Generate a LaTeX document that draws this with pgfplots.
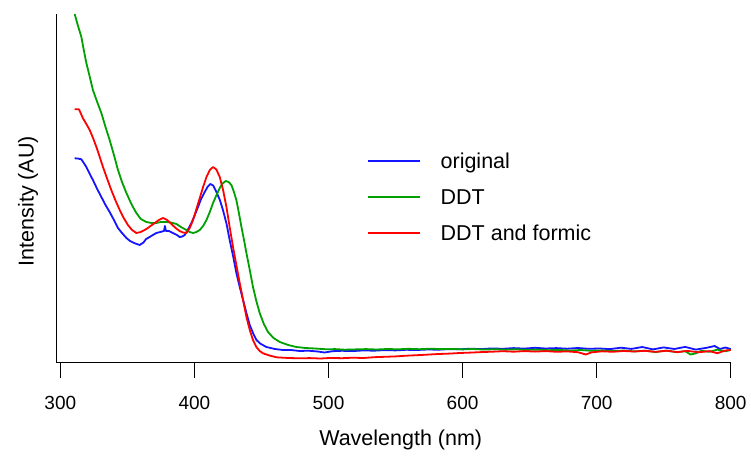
\documentclass[border=0pt]{standalone}
\usepackage{fontspec}
\setmainfont{Liberation Sans}
\usepackage{pgfplots}
\pgfplotsset{compat=1.18}
\definecolor{cblue}{RGB}{20,20,255}
\definecolor{cgreen}{RGB}{0,160,0}
\definecolor{cred}{RGB}{255,0,0}
\begin{document}
\begin{tikzpicture}
\begin{axis}[
  scale only axis,
  width=674pt, height=348.5pt,
  xmin=297.3, xmax=800, ymin=-0.5, ymax=348,
  axis x line*=bottom, axis y line*=left,
  axis line style={-, line width=1.3pt, black},
  every outer x axis line/.append style={-, line width=1.3pt, black},
  every outer y axis line/.append style={-, line width=1.3pt, black},
  xtick={300,400,500,600,700,800},
  ytick=\empty,
  tick align=outside,
  major tick length=15pt,
  tick style={line width=1.3pt, black},
  /pgf/number format/assume math mode=true,
  xticklabel style={font=\fontsize{19}{22}\selectfont, anchor=base, inner sep=0pt, yshift=-32pt},
  xlabel={Wavelength (nm)},
  xlabel style={font=\fontsize{21.5}{25}\selectfont, at={(rel axis cs:0.5,0)}, anchor=base, inner sep=0pt, xshift=7pt, yshift=-82.5pt},
  ylabel={Intensity (AU)},
  ylabel style={font=\fontsize{21.5}{25}\selectfont, at={(axis description cs:-0.0341,0.463)}, anchor=base, inner sep=0pt, rotate=0},
  clip=false,
  legend style={draw=none, fill=none, at={(axis cs:528.7,209.6)}, anchor=north west,
    font=\fontsize{21.5}{25}\selectfont, row sep=16pt, inner sep=0pt,
    nodes={inner sep=0pt, text height=15.5pt, text depth=4.5pt}},
  legend cell align=left,
  legend image code/.code={\draw[#1, line width=2pt] (0pt,2pt) -- (51.6pt,2pt); \path (71.6pt,2pt);},
  every axis plot/.append style={line width=1.8pt, line join=round},
]
\addplot[cblue] coordinates {
(310.7,203.7) (313,203.5) (315.7,202.7) (317.5,199) (319.4,195) (322,188) (324.3,182) (327.5,173) (330.6,165) (333.7,157) (336.8,150) (340,142) (343,134) (346,129) (349.3,124) (352,121) (355,119) (359.2,117) (362,119.5) (364,123) (366.6,125) (369,127) (371.6,129) (374.5,130) (377.3,131) (378,136) (378.8,131) (381,131) (384,129) (387,127) (389,125) (391,125.5) (392.8,127) (395,132) (397.8,139) (400,146) (402.7,155) (405,163) (407.7,170) (410,175.5) (411.9,178) (414,176.5) (416.4,170) (419,162) (421.3,152) (424,138) (426.3,122) (429,105) (431.3,89) (434,74) (436.3,62) (439,48) (441.3,37) (444,28) (446.3,22) (449,18.5) (453.7,15) (460,13) (466,12) (472,12) (478.6,11)
(485,11.3) (492,10.5) (497,9.5) (503,10.8) (510,11.2) (518,10.9) (526,11.6) (534,11.3) (542,11.9) (550,11.6) (558,12.2) (566,12.0) (574,12.5) (582,12.3) (590,12.9) (598,12.7) (606,13.3) (614,12.9) (622,13.6) (630,13.2) (638,13.9) (646,13.4) (654,14.2) (662,13.5) (670,13.9) (678,13.3) (686,14.0) (694,13.2) (702,13.5) (710,12.9) (718,14.3) (726,13.1) (734,15.0) (742,12.6) (750,14.6) (758,13.0) (766,15.1) (774,12.4) (782,14.2) (788,16) (792,13.0) (796,14.5) (800,13)
};
\addlegendentry{original}
\addplot[cgreen] coordinates {
(310.7,348) (313,337) (315.7,325) (317.5,312) (319.4,299) (322,285) (324.3,272) (327.5,260) (330.6,249) (333.7,235) (336.8,222) (340,207) (343,192) (346,180) (349.3,169) (353,158) (356.7,149) (360,143) (364.2,140) (368,139) (371.6,139) (375,140) (379.1,140) (382.5,139.5) (386.6,138) (390,135) (394,132) (396.5,130) (399,129) (401.5,130) (404,132) (406.5,136) (409,142) (411.5,150) (413.9,159) (416.5,167) (418.9,174) (421,178.5) (423.4,181) (425.5,180) (427.6,177) (429.5,170) (431.3,162) (433.2,149) (435.1,135) (437,122) (438.8,109) (441.3,92) (443.7,75) (446.2,61) (448.7,49) (451.8,38) (454.9,30) (459,24) (463.7,20) (470,17) (476,15) (483,14) (490,13.5) (498.5,12.7)
(505,12.9) (512,12.3) (520,12.6) (528,12.9) (536,12.5) (544,13.0) (552,12.7) (560,13.2) (568,12.8) (576,13.3) (584,12.9) (592,13.1) (600,12.6) (608,13.0) (616,12.4) (624,12.8) (632,12.3) (640,12.7) (648,12.1) (656,12.4) (664,11.8) (672,12.1) (680,11.4) (688,12.0) (696,11.2) (704,11.6) (712,10.9) (720,11.5) (728,10.6) (736,11.3) (744,10.0) (752,11.4) (760,9.8) (766,10.9) (770,7.5) (774,8.6) (778,11.2) (784,10.2) (790,12.3) (796,10.8) (800,12)
};
\addlegendentry{DDT}
\addplot[cred] coordinates {
(310.7,252.7) (313.9,252.7) (316.9,243.7) (319.4,238) (321.9,232) (324.4,224) (326.9,215) (329.4,205) (331.8,195) (335,183) (338,172) (341,162) (344.3,152) (347.3,144) (350.4,137) (353.5,132) (356.7,129) (360,130) (364.2,133) (367.3,136) (370.4,139) (373.5,142) (376.6,144) (379.7,142) (382.8,138) (386,134) (389,131) (391.5,129.5) (394,129) (396.5,134) (399,142) (401.5,153) (404,164) (406.5,175) (409,185) (411.5,192) (413.9,195) (416.4,192.5) (418.9,185) (421.4,172) (423.9,155) (426.3,135) (428.8,115) (431.3,97) (433.8,79) (436.3,62) (438.8,45) (441.3,32) (443.7,22) (446.2,15) (448.7,11) (451.2,8.7) (456,6.5) (461.2,4.7) (470,4) (478.6,3.7)
(486,3.9) (494,3.5) (502,4.1) (510,3.8) (518,4.3) (526,4.0) (534,4.8) (542,5.2) (550,5.6) (558,6.3) (566,6.8) (574,7.4) (582,8.0) (590,8.4) (598,9.0) (606,9.4) (614,9.9) (622,10.3) (630,10.8) (638,10.3) (646,10.9) (654,10.4) (662,10.9) (670,10.2) (678,10.6) (686,9.8) (692,7.5) (696,9.6) (704,10.7) (712,10.2) (720,11.0) (728,10.5) (736,11.2) (744,10.1) (752,11.3) (760,9.9) (768,11.1) (776,9.7) (784,10.9) (790,8.8) (796,11.5) (800,12)
};
\addlegendentry{DDT and formic}
\end{axis}
\useasboundingbox (-56.7pt,-92.5pt) rectangle (694.3pt,362.5pt);
\end{tikzpicture}
\end{document}
